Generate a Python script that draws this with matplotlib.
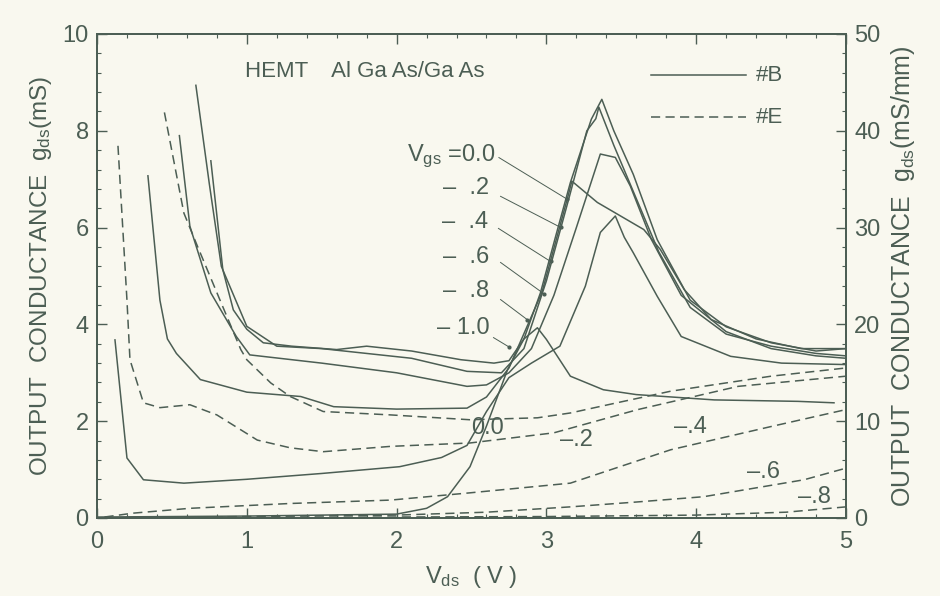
import matplotlib
matplotlib.use("Agg")
import matplotlib.pyplot as plt
from matplotlib.ticker import MultipleLocator

plt.rcParams['font.family'] = ['Liberation Sans', 'DejaVu Sans']
plt.rcParams['mathtext.fontset'] = 'custom'
plt.rcParams['mathtext.rm'] = 'Liberation Sans'

INK = '#4c5e54'
BG = '#f9f8ef'

# ---------------- data ----------------
# Sample #B (solid), Vgs = 0.0 ... -1.0
vgs_B = ['0.0', '-.2', '-.4', '-.6', '-.8', '-1.0']
B_00_v = [0.76, 0.84, 0.91, 1.0, 1.11, 1.3, 1.6, 1.8, 2.1, 2.43, 2.65, 2.75, 2.85, 2.96, 3.06, 3.16, 3.30, 3.37, 3.45, 3.58, 3.74, 3.96, 4.2, 4.5, 4.8, 5.0]
B_00_g = [7.38, 5.13, 4.30, 3.9, 3.62, 3.55, 3.48, 3.55, 3.45, 3.27, 3.2, 3.25, 3.7, 4.65, 5.8, 6.93, 8.24, 8.65, 8.0, 7.1, 5.75, 4.5, 3.95, 3.62, 3.45, 3.5]
B_02_v = [0.66, 0.75, 0.83, 1.0, 1.2, 1.5, 1.8, 2.1, 2.47, 2.7, 2.85, 3.0, 3.15, 3.27, 3.33, 3.35, 3.45, 3.6, 3.75, 3.96, 4.2, 4.5, 4.8, 5.0]
B_02_g = [8.94, 6.9, 5.2, 3.96, 3.55, 3.5, 3.4, 3.3, 3.03, 3.0, 3.5, 4.9, 6.6, 8.0, 8.25, 8.49, 7.7, 6.6, 5.5, 4.35, 3.8, 3.55, 3.4, 3.35]
B_04_v = [0.55, 0.62, 0.76, 0.93, 1.02, 1.5, 2.0, 2.47, 2.6, 2.75, 2.9, 3.05, 3.2, 3.36, 3.46, 3.56, 3.7, 3.9, 4.2, 4.5, 4.8, 5.0]
B_04_g = [7.9, 6.03, 4.65, 3.75, 3.37, 3.2, 3.0, 2.72, 2.75, 3.0, 3.5, 4.6, 6.0, 7.52, 7.45, 6.86, 5.76, 4.6, 3.85, 3.5, 3.35, 3.3]
B_06_v = [0.34, 0.42, 0.47, 0.53, 0.69, 1.0, 1.36, 1.58, 2.0, 2.47, 2.6, 2.75, 2.97, 3.14, 3.17, 3.34, 3.65, 3.76, 3.92, 4.1, 4.4, 4.7, 5.0]
B_06_g = [7.07, 4.5, 3.7, 3.4, 2.86, 2.6, 2.51, 2.3, 2.25, 2.27, 2.5, 3.1, 4.66, 6.6, 6.96, 6.52, 5.96, 5.55, 4.72, 4.1, 3.7, 3.5, 3.5]
B_08_v = [0.12, 0.2, 0.31, 0.58, 1.0, 1.5, 2.02, 2.3, 2.47, 2.6, 2.75, 2.9, 3.09, 3.26, 3.36, 3.46, 3.52, 3.58, 3.74, 3.9, 4.23, 4.57, 5.0]
B_08_g = [3.68, 1.24, 0.79, 0.72, 0.8, 0.92, 1.06, 1.25, 1.5, 2.2, 2.9, 3.2, 3.55, 4.79, 5.9, 6.24, 5.8, 5.48, 4.58, 3.75, 3.34, 3.2, 3.17]
B_10_v = [0.0, 1.0, 2.0, 2.2, 2.34, 2.49, 2.6, 2.74, 2.85, 2.94, 3.0, 3.16, 3.38, 3.6, 4.12, 4.68, 4.92]
B_10_g = [0.02, 0.04, 0.08, 0.2, 0.44, 1.06, 1.9, 3.06, 3.7, 3.93, 3.69, 2.93, 2.65, 2.55, 2.44, 2.41, 2.38]

# Sample #E (dashed), Vgs = 0.0 ... -.8
vgs_E = ['0.0', '-.2', '-.4', '-.6', '-.8']
E_00_v = [0.45, 0.58, 0.67, 0.82, 0.96, 1.0, 1.16, 1.29, 1.51, 1.96, 2.49, 2.94, 3.16, 3.5, 3.83, 4.5, 5.0]
E_00_g = [8.38, 6.3, 5.62, 4.51, 3.48, 3.27, 2.79, 2.51, 2.2, 2.13, 2.03, 2.07, 2.17, 2.4, 2.62, 2.93, 3.1]
E_02_v = [0.14, 0.2, 0.22, 0.31, 0.42, 0.62, 0.8, 1.07, 1.29, 1.51, 1.96, 2.49, 3.05, 3.61, 4.28, 5.0]
E_02_g = [7.69, 4.5, 3.27, 2.38, 2.28, 2.34, 2.13, 1.61, 1.45, 1.37, 1.48, 1.55, 1.76, 2.24, 2.72, 2.93]
E_04_v = [0.05, 0.24, 0.62, 1.29, 1.96, 2.49, 3.16, 3.83, 4.5, 5.0]
E_04_g = [0.02, 0.1, 0.2, 0.3, 0.37, 0.52, 0.72, 1.41, 1.89, 2.24]
E_06_v = [0.0, 1.0, 2.0, 2.6, 3.16, 3.6, 4.05, 4.72, 5.0]
E_06_g = [0.0, 0.03, 0.06, 0.12, 0.23, 0.33, 0.44, 0.79, 1.03]
E_08_v = [0.0, 3.0, 4.0, 4.6, 5.0]
E_08_g = [0.0, 0.03, 0.06, 0.12, 0.23]

x_ticks = [0, 1, 2, 3, 4, 5]
y_ticks = [0, 2, 4, 6, 8, 10]
y2_ticks = [0, 10, 20, 30, 40, 50]

# -----------------------------------------------------------
fig = plt.figure(figsize=(9.4, 5.96), dpi=100, facecolor=BG)
ax = fig.add_axes([97/940, 1-518/596, (846-97)/940, (518-34)/596])
ax.set_facecolor(BG)

solid = [(B_00_v, B_00_g), (B_02_v, B_02_g), (B_04_v, B_04_g),
         (B_06_v, B_06_g), (B_08_v, B_08_g), (B_10_v, B_10_g)]
dashed = [(E_00_v, E_00_g), (E_02_v, E_02_g), (E_04_v, E_04_g),
          (E_06_v, E_06_g), (E_08_v, E_08_g)]
for v, g in solid:
    ax.plot(v, g, color=INK, lw=1.1, solid_joinstyle='round')
for v, g in dashed:
    ax.plot(v, g, color=INK, lw=1.1, linestyle=(0, (6, 3.5)))

ax.set_xlim(0, 5)
ax.set_ylim(0, 10)
ax.set_xticks(x_ticks)
ax.set_yticks(y_ticks)
ax.xaxis.set_minor_locator(MultipleLocator(0.2))
ax.yaxis.set_minor_locator(MultipleLocator(0.4))
ax.tick_params(axis='both', which='major', direction='in', length=7, width=1.0,
               color=INK, labelcolor=INK, labelsize=17, top=True, right=False, pad=6)
ax.tick_params(axis='both', which='minor', direction='in', length=3, width=0.8,
               color=INK, top=True, right=False)
ax.tick_params(axis='x', which='major', pad=9)
for s in ax.spines.values():
    s.set_color(INK)
    s.set_linewidth(1.3)

ax2 = ax.twinx()
ax2.set_ylim(0, 50)
ax2.set_yticks(y2_ticks)
ax2.yaxis.set_minor_locator(MultipleLocator(2))
ax2.tick_params(axis='y', which='major', direction='in', length=7, width=1.0,
                color=INK, labelcolor=INK, labelsize=17, pad=6)
ax2.tick_params(axis='y', which='minor', direction='in', length=3, width=0.8, color=INK)
for s in ax2.spines.values():
    s.set_color(INK)
    s.set_linewidth(1.3)

ax.set_xlabel(r'$\mathregular{V_{ds}}$  ( V )', fontsize=17, color=INK, labelpad=8)
ax.set_ylabel(r'OUTPUT  CONDUCTANCE  $\mathregular{g_{ds}}$(mS)', fontsize=17.5,
              color=INK, labelpad=6)
ax2.set_ylabel(r'OUTPUT  CONDUCTANCE  $\mathregular{g_{ds}}$(mS/mm)', fontsize=18,
               color=INK, labelpad=6)

# title and legend
ax.text(0.99, 9.23, 'HEMT    Al Ga As/Ga As', fontsize=16, color=INK, va='center')
ax.plot([3.70, 4.33], [9.15, 9.15], color=INK, lw=1.1)
ax.plot([3.70, 4.33], [8.28, 8.28], color=INK, lw=1.1, linestyle=(0, (6, 3.5)))
ax.text(4.40, 9.15, '#B', fontsize=16, color=INK, va='center')
ax.text(4.40, 8.28, '#E', fontsize=16, color=INK, va='center')

# #B labels with leader lines
labB_txt = [r'$\mathregular{V_{gs}}$ =0.0', '\u2013  .2', '\u2013  .4', '\u2013  .6', '\u2013  .8', '\u2013 1.0']
labB_xy = [(2.66, 7.47), (2.62, 6.82), (2.61, 6.12), (2.62, 5.40), (2.62, 4.68), (2.62, 3.93)]
lead_start = [(2.683, 7.447), (2.694, 6.646), (2.680, 5.983), (2.694, 5.280), (2.694, 4.513), (2.647, 3.727)]
lead_end = [(3.140, 6.584), (3.095, 6.004), (3.028, 5.300), (2.981, 4.638), (2.872, 4.099), (2.747, 3.540)]
for t, (x, y) in zip(labB_txt, labB_xy):
    ax.text(x, y, t, fontsize=17, color=INK, ha='right', va='center')
for (x0, y0), (x1, y1) in zip(lead_start, lead_end):
    ax.plot([x0, x1], [y0, y1], color=INK, lw=0.7)
    ax.plot([x1], [y1], 'o', color=INK, ms=2)

# #E labels
labE_txt = ['0.0', '\u2013.2', '\u2013.4', '\u2013.6', '\u2013.8']
labE_xy = [(2.61, 1.86), (3.20, 1.61), (3.96, 1.89), (4.45, 0.96), (4.79, 0.44)]
for t, (x, y) in zip(labE_txt, labE_xy):
    ax.text(x, y, t, fontsize=17, color=INK, ha='center', va='center')

fig.savefig('out.png', dpi=100, facecolor=BG)
